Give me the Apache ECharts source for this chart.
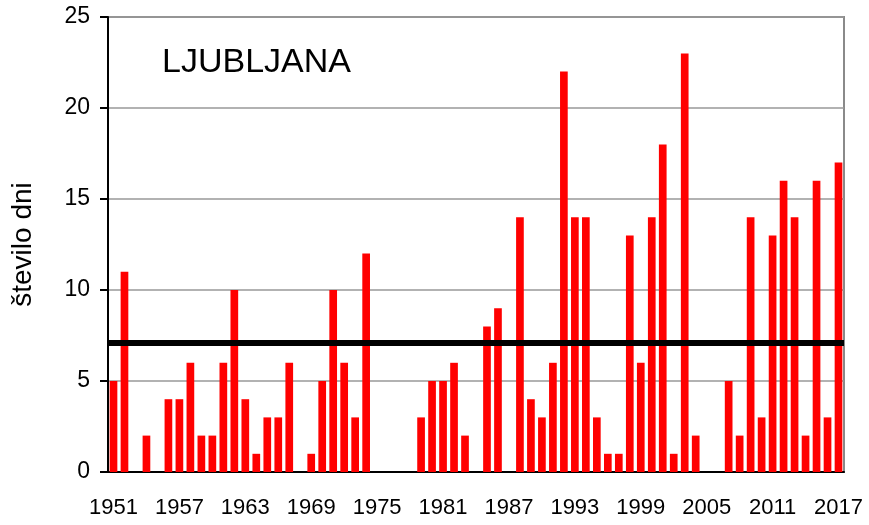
<!DOCTYPE html>
<html>
<head>
<meta charset="utf-8">
<script src="https://cdn.jsdelivr.net/npm/echarts@6/dist/echarts.min.js"></script>
<style>
html,body{margin:0;padding:0;background:#fff;}
#main{width:869px;height:525px;}
</style>
</head>
<body>
<div id="main"></div>
<script>
var years = [];
for (var y = 1951; y <= 2017; y++) years.push(String(y));
var days = [5,11,0,2,0,4,4,6,2,2,6,10,4,1,3,3,6,0,1,5,10,6,3,12,0,0,0,0,3,5,5,6,2,0,8,9,0,14,4,3,6,22,14,14,3,1,1,13,6,14,18,1,23,2,0,0,5,2,14,3,13,16,14,2,16,3,17];
var meanDays = 7.1;
var titleText = 'LJUBLJANA';
var yName = 'število dni';

var chart = echarts.init(document.getElementById('main'));
chart.setOption({
  animation: false,
  backgroundColor: '#fff',
  textStyle: {fontFamily: 'Liberation Sans, Arial, sans-serif'},
  title: {
    text: titleText, left: 157, top: 41,
    textStyle: {fontSize: 34, fontWeight: 'normal', color: '#000', fontFamily: 'Liberation Sans'}
  },
  grid: {left: 108, right: 25, top: 17, bottom: 53, show: true, borderColor: '#8a8a8a', borderWidth: 2},
  xAxis: {
    type: 'category', data: years,
    axisLine: {lineStyle: {color: '#000', width: 2}},
    axisTick: {interval: 2, length: 7, lineStyle: {color: '#000', width: 2}},
    axisLabel: {interval: 5, fontSize: 22, color: '#000', margin: 25, fontFamily: 'Liberation Sans'}
  },
  yAxis: {
    type: 'value', min: 0, max: 25, interval: 5,
    name: yName, nameLocation: 'middle', nameGap: 71, nameRotate: 90,
    nameTextStyle: {fontSize: 28, color: '#000', fontFamily: 'Liberation Sans'},
    axisLine: {show: true, lineStyle: {color: '#000', width: 2}},
    axisTick: {show: true, length: 8, lineStyle: {color: '#000', width: 2}},
    axisLabel: {fontSize: 23, color: '#000', margin: 18, fontFamily: 'Liberation Sans'},
    splitLine: {lineStyle: {color: '#999', width: 1.5}}
  },
  series: [{
    type: 'bar', data: days,
    barCategoryGap: '30%',
    itemStyle: {color: '#ff0000'},
    markLine: {
      symbol: 'none', silent: true,
      label: {show: false},
      lineStyle: {color: '#000', width: 6, type: 'solid'},
      data: [{yAxis: meanDays}]
    }
  }]
});
</script>
</body>
</html>
